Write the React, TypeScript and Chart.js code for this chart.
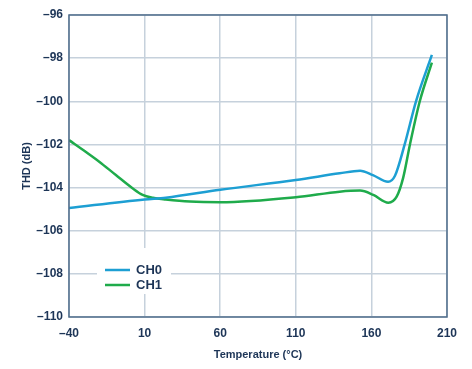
import React, { useEffect, useRef } from "react";
import { Chart, registerables } from "chart.js";

Chart.register(...registerables);

const ch0Temps = [-40, 10, 24, 60, 110, 139, 152.5, 161, 171, 175.6, 182, 189.5, 200];
const ch0Values = [-104.95, -104.55, -104.47, -104.1, -103.65, -103.34, -103.22, -103.42, -103.73, -103.45, -102.0, -100.0, -97.85];
const ch1Temps = [-40, -29, -20, -9, 2, 8.7, 15.4, 24, 40, 60, 110, 139, 152.5, 161.3, 171.2, 176.7, 181, 185.5, 192, 200];
const ch1Values = [-101.8, -102.34, -102.8, -103.42, -104.03, -104.34, -104.47, -104.55, -104.65, -104.68, -104.45, -104.19, -104.14, -104.34, -104.7, -104.42, -103.55, -102.0, -100.0, -98.21];
const seriesNames = ["CH0", "CH1"];
const seriesColors = ["#1d9fd3", "#1fab4b"];
const xTicks = [-40, 10, 60, 110, 160, 210];
const yTicks = [-110, -108, -106, -104, -102, -100, -98, -96];

const navy = "#1d3557";
const FONT = "'Liberation Sans', Arial, sans-serif";

const framePlugin = {
  id: "frame",
  afterDraw(chart: any) {
    const { ctx, chartArea } = chart;
    ctx.save();
    ctx.strokeStyle = "#4f6c8b";
    ctx.lineWidth = 1.5;
    ctx.strokeRect(chartArea.left, chartArea.top, chartArea.right - chartArea.left, chartArea.bottom - chartArea.top);
    // legend
    const x0 = chartArea.left + 28;
    const y0 = chartArea.top + 233;
    ctx.fillStyle = "#ffffff";
    ctx.fillRect(x0, y0, 74, 46);
    ctx.font = `bold 13px ${FONT}`;
    ctx.textBaseline = "middle";
    seriesNames.forEach((n, i) => {
      const y = y0 + 22 + i * 15;
      ctx.strokeStyle = seriesColors[i];
      ctx.lineWidth = 2.5;
      ctx.beginPath();
      ctx.moveTo(x0 + 8, y);
      ctx.lineTo(x0 + 33, y);
      ctx.stroke();
      ctx.fillStyle = navy;
      ctx.fillText(n, x0 + 39, y + 0.5);
    });
    ctx.restore();
  },
};

export default function App() {
  const ref = useRef<HTMLCanvasElement>(null);
  useEffect(() => {
    document.body.style.margin = "0";
    const toPts = (xs: number[], ys: number[]) => xs.map((x, i) => ({ x, y: ys[i] }));
    const chart = new Chart(ref.current!, {
      type: "line",
      data: {
        datasets: [
          { label: seriesNames[0], data: toPts(ch0Temps, ch0Values), borderColor: seriesColors[0], borderWidth: 2.5, pointRadius: 0, cubicInterpolationMode: "monotone", fill: false },
          { label: seriesNames[1], data: toPts(ch1Temps, ch1Values), borderColor: seriesColors[1], borderWidth: 2.5, pointRadius: 0, cubicInterpolationMode: "monotone", fill: false },
        ],
      },
      options: {
        animation: false,
        responsive: false,
        layout: { padding: { left: 0, right: 25, top: 15, bottom: 0 } },
        plugins: { legend: { display: false }, tooltip: { enabled: false } },
        scales: {
          x: {
            type: "linear",
            min: -40,
            max: 210,
            afterBuildTicks: (s: any) => { s.ticks = xTicks.map((v) => ({ value: v })); },
            afterFit: (s: any) => { s.height = 52; },
            grid: { color: "#c6d1dc", lineWidth: 1.5, drawTicks: false },
            border: { display: false },
            ticks: { color: navy, font: { family: FONT, size: 12, weight: "bold" }, padding: 9, maxRotation: 0, callback: (v: any) => String(v).replace("-", "–") },
            title: { display: true, text: "Temperature (°C)", color: navy, font: { family: FONT, size: 11, weight: "bold" }, padding: { top: 0, bottom: 7 } },
          },
          y: {
            type: "linear",
            min: -110,
            max: -96,
            afterBuildTicks: (s: any) => { s.ticks = yTicks.map((v) => ({ value: v })); },
            afterFit: (s: any) => { s.width = 69; },
            grid: { color: "#c6d1dc", lineWidth: 1.5, drawTicks: false },
            border: { display: false },
            ticks: { color: navy, font: { family: FONT, size: 12, weight: "bold" }, padding: 6, callback: (v: any) => String(v).replace("-", "–") },
            title: { display: true, text: "THD (dB)", color: navy, font: { family: FONT, size: 11, weight: "bold" }, padding: { top: 20, bottom: 0 } },
          },
        },
      },
      plugins: [framePlugin],
    } as any);
    return () => chart.destroy();
  }, []);
  return <canvas ref={ref} width={472} height={369} style={{ display: "block", width: 472, height: 369 }} />;
}
